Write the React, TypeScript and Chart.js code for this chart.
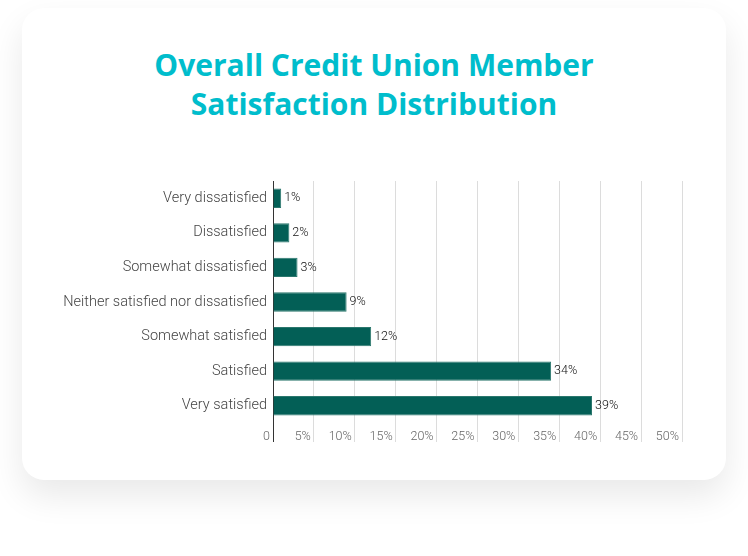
import React, { useEffect, useRef } from 'react';
import { Chart, registerables } from 'chart.js';

Chart.register(...registerables);

const titleLines = ['Overall Credit Union Member', 'Satisfaction Distribution'];
const categories = [
  'Very dissatisfied',
  'Dissatisfied',
  'Somewhat dissatisfied',
  'Neither satisfied nor dissatisfied',
  'Somewhat satisfied',
  'Satisfied',
  'Very satisfied',
];
const values = [1, 2, 3, 9, 12, 34, 39];
const valueLabels = ['1%', '2%', '3%', '9%', '12%', '34%', '39%'];
const axisMax = 50;
const axisStep = 5;

const FONT = 'Roboto, "Noto Sans", sans-serif';
const TITLE_FONT = '"Open Sans", Roboto, sans-serif';

const valueLabelPlugin = {
  id: 'valueLabels',
  afterDatasetsDraw(chart: any) {
    const ctx = chart.ctx;
    const meta = chart.getDatasetMeta(0);
    ctx.save();
    ctx.font = `300 12.5px ${FONT}`;
    ctx.fillStyle = '#111111';
    ctx.textAlign = 'left';
    ctx.textBaseline = 'middle';
    meta.data.forEach((bar: any, i: number) => {
      ctx.fillText(valueLabels[i], bar.x + 3, bar.y);
    });
    ctx.restore();
  },
};

export default function App() {
  const canvasRef = useRef<HTMLCanvasElement | null>(null);

  useEffect(() => {
    if (!canvasRef.current) return;
    const chart = new Chart(canvasRef.current, {
      type: 'bar',
      data: {
        labels: categories,
        datasets: [
          {
            data: values,
            backgroundColor: '#035f56',
            borderColor: '#2b776d',
            borderWidth: 1,
            barPercentage: 0.56,
            categoryPercentage: 1,
          },
        ],
      },
      options: {
        indexAxis: 'y',
        animation: false,
        responsive: false,
        maintainAspectRatio: false,
        devicePixelRatio: 1,
        layout: { padding: { top: 31, right: 44, bottom: 17, left: 0 } },
        plugins: {
          legend: { display: false },
          title: { display: false },
          tooltip: { enabled: false },
        },
        scales: {
          x: {
            type: 'linear',
            min: 0,
            max: axisMax,
            ticks: {
              stepSize: axisStep,
              align: 'end',
              padding: -13,
              color: '#666666',
              font: { family: FONT, size: 12.5, weight: '300' },
              callback: (v: any) => (Number(v) === 0 ? '0 ' : `${v}% `),
            },
            grid: {
              color: (c: any) => (c.tick && c.tick.value === 0 ? '#333333' : '#dcdcdc'),
              lineWidth: 1,
              tickLength: 19,
              drawTicks: true,
            },
            border: { display: false },
            afterFit: (axis: any) => {
              axis.height = 30;
            },
          },
          y: {
            ticks: {
              padding: 6,
              color: '#444444',
              font: { family: FONT, size: 14.5, weight: '300' },
            },
            grid: { display: false, drawTicks: false },
            border: { display: true, color: '#333333', width: 1 },
            afterFit: (axis: any) => {
              axis.width = 251;
            },
          },
        },
      },
      plugins: [valueLabelPlugin],
    });
    return () => chart.destroy();
  }, []);

  return (
    <div
      style={{
        position: 'absolute',
        left: 0,
        top: 0,
        width: 748,
        height: 556,
        background: '#ffffff',
        overflow: 'hidden',
      }}
    >
      <div
        style={{
          position: 'absolute',
          left: 22,
          top: 8,
          width: 704,
          height: 472,
          borderRadius: 22,
          background: '#ffffff',
          boxShadow: '0 16px 34px rgba(0,0,0,0.09)',
        }}
      />
      <div
        style={{
          position: 'absolute',
          left: 22,
          top: 45,
          width: 704,
          textAlign: 'center',
          fontFamily: TITLE_FONT,
          fontWeight: 700,
          fontSize: 30,
          lineHeight: '39px',
          color: '#00bdcc',
        }}
      >
        {titleLines.map((t) => (
          <div key={t}>{t}</div>
        ))}
      </div>
      <canvas
        ref={canvasRef}
        width={704}
        height={320}
        style={{ position: 'absolute', left: 22, top: 150, width: 704, height: 320 }}
      />
    </div>
  );
}
